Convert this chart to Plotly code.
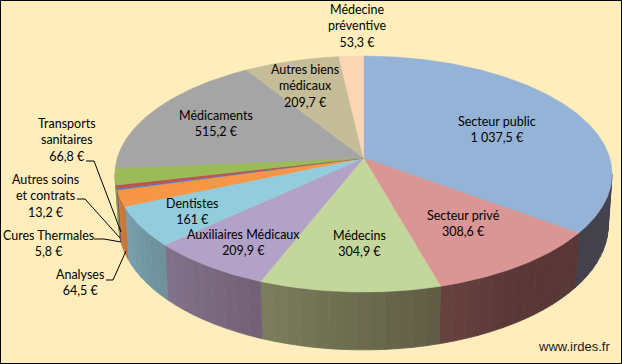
import math
import plotly.graph_objects as go

# ---------------- data ----------------
categories = ["Secteur public", "Secteur privé", "Médecins", "Auxiliaires Médicaux",
              "Dentistes", "Analyses", "Cures Thermales", "Autres soins et contrats",
              "Transports sanitaires", "Médicaments", "Autres biens médicaux",
              "Médecine préventive"]
values = [1037.5, 308.6, 304.9, 209.9, 161.0, 64.5, 5.8, 13.2, 66.8, 515.2, 209.7, 53.3]
label_names = ["Secteur public", "Secteur privé", "Médecins", "Auxiliaires Médicaux",
               "Dentistes", "Analyses", "Cures Thermales", "Autres soins<br>et contrats",
               "Transports<br>sanitaires", "Médicaments", "Autres biens<br>médicaux",
               "Médecine<br>préventive"]

# ---------------- styles / layout ----------------
colors = ["#95B3D7", "#D99694", "#C3D69B", "#B3A2C7", "#93CDDD", "#F79646",
          "#4F81BD", "#C0504D", "#9BBB59", "#A5A5A5", "#C4BD97", "#FCD5B5"]
label_pos = [(497, 129), (463, 223), (359, 243), (243, 242), (192, 211), (80, 282),
             (48, 243), (45, 196), (67, 140), (216, 123), (305, 86), (357, 26)]
leaders = ["M 86,161 L 94,161 L 121,232",
           "M 77,199 L 85,199 L 120,238",
           "M 94,239 L 104,239 L 121,242",
           "M 106,280 L 113,280 L 126,251"]
W, H = 622, 364
BG = "#FFEEBB"

# projection of the (tilted, perspective) pie
CX, CY, RX, RY, K, DEPTH, BOTSHRINK = 363.5, 158.0, 246.2, 115.8, 0.136, 50.0, 0.985


def proj(theta_deg, bottom=False):
    t = math.radians(theta_deg)
    u, v = math.sin(t), -math.cos(t)
    s = 1.0 / (1.0 - K * v)
    x = CX + RX * u * s
    y = CY + RY * v * s
    if bottom:
        x = CX + (x - CX) * BOTSHRINK
        y = y + DEPTH * s
    return x, y


def arc(a, b, bottom=False, step=0.5):
    n = max(2, int(math.ceil(abs(b - a) / step)) + 1)
    return [proj(a + (b - a) * i / (n - 1), bottom) for i in range(n)]


def hex2rgb(h):
    h = h.lstrip("#")
    return tuple(int(h[i:i + 2], 16) for i in (0, 2, 4))


def shade(hexcol, theta):
    f = min(0.95, max(0.33, 0.32 + 0.0045 * (theta - 145)))
    add = (1 - f) / 0.67
    r, g, b = hex2rgb(hexcol)
    r = min(255, r * f + 18 * add)
    g = min(255, g * f + 6 * add)
    b = min(255, b * f + 6 * add)
    return "rgb(%d,%d,%d)" % (r, g, b)


def fmt_eur(v):
    s = "{:,.1f}".format(v)
    if s.endswith(".0"):
        s = s[:-2]
    return s.replace(",", " ").replace(".", ",") + " €"


total = sum(values)
angles = []
acc = 0.0
for v in values:
    a0 = acc / total * 360.0
    acc += v
    angles.append((a0, acc / total * 360.0))

fig = go.Figure()

# side walls (front half only)
vis_lo = math.degrees(math.acos(-K))
vis_hi = 360.0 - vis_lo
for i, (a0, a1) in enumerate(angles):
    lo, hi = max(a0, vis_lo), min(a1, vis_hi)
    if hi <= lo:
        continue
    nseg = max(1, int(math.ceil((hi - lo) / 3.0)))
    for j in range(nseg):
        sa = lo + (hi - lo) * j / nseg
        sb = lo + (hi - lo) * (j + 1) / nseg
        top = arc(sa, sb)
        bot = arc(sb, sa, bottom=True)
        pts = top + bot + [top[0]]
        col = shade(colors[i], (sa + sb) / 2)
        fig.add_trace(go.Scatter(x=[p[0] for p in pts], y=[p[1] for p in pts],
                                 mode="lines", fill="toself", fillcolor=col,
                                 line=dict(color=col, width=0.8),
                                 hoverinfo="skip", showlegend=False))

# top faces
for i, (a0, a1) in enumerate(angles):
    pts = [(CX, CY)] + arc(a0, a1) + [(CX, CY)]
    fig.add_trace(go.Scatter(x=[p[0] for p in pts], y=[p[1] for p in pts],
                             mode="lines", fill="toself", fillcolor=colors[i],
                             line=dict(color=colors[i], width=0.6),
                             name=categories[i], hoveron="fills",
                             text=categories[i] + " : " + fmt_eur(values[i]),
                             hoverinfo="text", showlegend=False))

annotations = []
for i in range(len(categories)):
    x, y = label_pos[i]
    annotations.append(dict(x=x, y=y, xref="x", yref="y", showarrow=False,
                            text=label_names[i] + "<br>" + fmt_eur(values[i]),
                            align="center",
                            font=dict(family="Lato", size=12.5, color="#000000")))
annotations.append(dict(x=574, y=346, xref="x", yref="y", showarrow=False,
                        text="www.irdes.fr",
                        font=dict(family="Liberation Sans, Arial", size=13, color="#1a1a1a")))

shapes = [dict(type="path", path=p, xref="x", yref="y",
               line=dict(color="#000000", width=1)) for p in leaders]
shapes.append(dict(type="rect", xref="x", yref="y", x0=0.5, y0=0.5, x1=W - 0.5, y1=H - 0.5,
                   line=dict(color="#000000", width=1), layer="above"))

fig.update_layout(
    width=W, height=H, margin=dict(l=0, r=0, t=0, b=0),
    paper_bgcolor=BG, plot_bgcolor=BG,
    xaxis=dict(range=[0, W], visible=False, fixedrange=True),
    yaxis=dict(range=[H, 0], visible=False, fixedrange=True),
    annotations=annotations, shapes=shapes, showlegend=False,
)

fig.write_html("out.html", config={"displayModeBar": False},
               post_script="document.body.style.margin='0';document.body.style.padding='0';document.body.style.overflow='hidden';")
